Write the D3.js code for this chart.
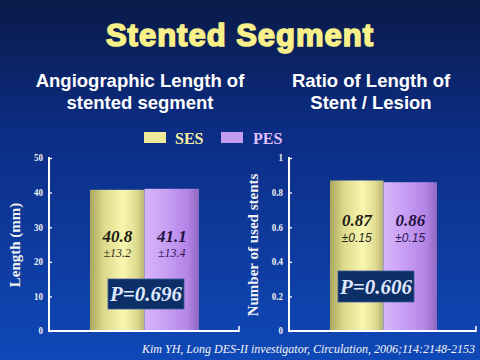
<!DOCTYPE html>
<html><head><meta charset="utf-8">
<script src="https://cdn.jsdelivr.net/npm/d3@7"></script>
<style>html,body{margin:0;padding:0;background:#0d2f8a;}svg{display:block;}</style>
</head><body>
<script>
const series = ["SES", "PES"];
const lengthValues = [40.8, 41.1];
const lengthSD = ["±13.2", "±13.4"];
const ratioValues = [0.87, 0.86];
const ratioSD = ["±0.15", "±0.15"];
const lengthTicks = [0, 10, 20, 30, 40, 50];
const ratioTicks = [0, 0.2, 0.4, 0.6, 0.8, 1];
const pValues = ["P=0.696", "P=0.606"];

const W = 480, H = 360;
const svg = d3.select("body").append("svg").attr("width", W).attr("height", H);
const defs = svg.append("defs");

const bg = defs.append("linearGradient").attr("id", "bg").attr("x1", 0).attr("y1", 0).attr("x2", 0).attr("y2", 1);
bg.append("stop").attr("offset", "0%").attr("stop-color", "#0a1a48");
bg.append("stop").attr("offset", "35%").attr("stop-color", "#0c2c82");
bg.append("stop").attr("offset", "100%").attr("stop-color", "#0f48b8");
svg.append("rect").attr("width", W).attr("height", H).attr("fill", "url(#bg)");

const gradStops = {
  SES: [["0%", "#a9a55e"], ["25%", "#dcd98a"], ["60%", "#f8f6b0"], ["85%", "#e0dc92"], ["100%", "#b8b474"]],
  PES: [["0%", "#d6b6fa"], ["40%", "#c89ef4"], ["80%", "#b384e6"], ["100%", "#8e68c0"]]
};
series.forEach(s => {
  const g = defs.append("linearGradient").attr("id", "g" + s).attr("x1", 0).attr("y1", 0).attr("x2", 1).attr("y2", 0);
  gradStops[s].forEach(([o, c]) => g.append("stop").attr("offset", o).attr("stop-color", c));
});
const swatch = {SES: "#eeea9a", PES: "#c29cf0"};
const legendText = {SES: "#f8f0a0", PES: "#e0c0ff"};

// Title
svg.append("text").attr("x", 240).attr("y", 46).attr("text-anchor", "middle")
  .attr("font-family", "Liberation Sans, Arial, sans-serif").attr("font-weight", "bold").attr("font-size", 31)
  .attr("fill", "#f8f088").attr("stroke", "#f8f088").attr("stroke-width", 1.6).attr("letter-spacing", 1)
  .text("Stented Segment");

const subs = [
  {x: 140, lines: ["Angiographic Length of", "stented segment"]},
  {x: 371, lines: ["Ratio of Length of", "Stent / Lesion"]}
];
subs.forEach(s => {
  s.lines.forEach((l, i) => {
    svg.append("text").attr("x", s.x).attr("y", 87 + i * 22).attr("text-anchor", "middle")
      .attr("font-family", "Liberation Sans, Arial, sans-serif").attr("font-weight", "bold").attr("font-size", 18.5)
      .attr("fill", "#ffffff").text(l);
  });
});

// Legend
const legendX = {SES: [144, 175], PES: [221, 253]};
series.forEach(s => {
  svg.append("rect").attr("x", legendX[s][0]).attr("y", 132).attr("width", 22).attr("height", 11).attr("fill", swatch[s]);
  svg.append("text").attr("x", legendX[s][1]).attr("y", 144)
    .attr("font-family", "Liberation Serif, Times New Roman, serif").attr("font-weight", "bold").attr("font-size", 16)
    .attr("fill", legendText[s]).text(s);
});

const charts = [
  {x0: 49, x1: 239, domain: [0, 50], ticks: lengthTicks, vals: lengthValues, sd: lengthSD, fmt: d3.format(".1f"),
   bars: [90, 199], title: "Length (mm)", titleX: 20, p: pValues[0], box: [108, 279, 76, 30], valY: 242, sdY: 257, sdSerif: true},
  {x0: 289, x1: 476, domain: [0, 1], ticks: ratioTicks, vals: ratioValues, sd: ratioSD, fmt: d3.format(".2f"),
   bars: [330, 437], title: "Number of used stents", titleX: 258, p: pValues[1], box: [338, 271, 76, 31], valY: 226, sdY: 242, sdSerif: false}
];

charts.forEach(c => {
  const y = d3.scaleLinear().domain(c.domain).range([331, 158]);
  const x = d3.scaleBand().domain(series).range(c.bars).padding(0);
  const g = svg.append("g");
  g.selectAll("rect.bar").data(series).enter().append("rect")
    .attr("x", d => x(d)).attr("width", x.bandwidth())
    .attr("y", (d, i) => y(c.vals[i])).attr("height", (d, i) => y(0) - y(c.vals[i]))
    .attr("fill", d => "url(#g" + d + ")");
  // axis
  const ax = g.append("g").attr("transform", `translate(${c.x0},0)`)
    .call(d3.axisRight(y).tickValues(c.ticks).tickSize(3).tickFormat(""));
  ax.select(".domain").remove();
  ax.selectAll("line").attr("stroke", "#fff").attr("stroke-width", 1.3);
  g.append("line").attr("x1", c.x0).attr("x2", c.x0).attr("y1", y(c.domain[1]) - 1).attr("y2", 332)
    .attr("stroke", "#fff").attr("stroke-width", 2);
  g.append("line").attr("x1", c.x0 - 1).attr("x2", c.x1).attr("y1", 331).attr("y2", 331)
    .attr("stroke", "#fff").attr("stroke-width", 2);
  g.append("line").attr("x1", c.x1).attr("x2", c.x1).attr("y1", 326).attr("y2", 332)
    .attr("stroke", "#fff").attr("stroke-width", 1.5);
  g.selectAll("text.tick").data(c.ticks).enter().append("text")
    .attr("x", c.x0 - 6).attr("y", d => y(d) + 3.5).attr("text-anchor", "end")
    .attr("font-family", "Liberation Serif, serif").attr("font-weight", "bold").attr("font-size", 10.5)
    .attr("fill", "#f0f0f0").attr("transform", d => `translate(${(c.x0 - 6) * 0.15},0) scale(0.85,1)`)
    .text(d => d);
  g.append("text").attr("transform", `translate(${c.titleX},245) rotate(-90)`).attr("text-anchor", "middle")
    .attr("font-family", "Liberation Serif, serif").attr("font-weight", "bold").attr("font-size", 15)
    .attr("fill", "#f2f2f2").text(c.title);
  // value labels
  series.forEach((s, i) => {
    const cx = x(s) + x.bandwidth() / 2;
    g.append("text").attr("x", cx).attr("y", c.valY).attr("text-anchor", "middle")
      .attr("font-family", "Liberation Serif, serif").attr("font-weight", "bold").attr("font-style", "italic")
      .attr("font-size", 17).attr("fill", i === 0 ? "#1a1a10" : "#241040").text(c.fmt(c.vals[i]));
    g.append("text").attr("x", cx).attr("y", c.sdY).attr("text-anchor", "middle")
      .attr("font-family", c.sdSerif ? "Liberation Serif, serif" : "Liberation Sans, sans-serif").attr("font-style", "italic")
      .attr("font-size", 12).attr("fill", i === 0 ? "#2a2a18" : "#2e1850").text(c.sd[i]);
  });
  // P box
  g.append("rect").attr("x", c.box[0]).attr("y", c.box[1]).attr("width", c.box[2]).attr("height", c.box[3])
    .attr("fill", "#0b2f66").attr("stroke", "#3a5a9a").attr("stroke-width", 0.8);
  g.append("text").attr("x", c.box[0] + c.box[2] / 2).attr("y", c.box[1] + c.box[3] / 2 + 7).attr("text-anchor", "middle")
    .attr("font-family", "Liberation Serif, serif").attr("font-weight", "bold").attr("font-style", "italic")
    .attr("font-size", 21).attr("fill", "#dfe8ff").text(c.p);
});

svg.append("text").attr("x", 475).attr("y", 353).attr("text-anchor", "end")
  .attr("font-family", "Liberation Serif, serif").attr("font-style", "italic").attr("font-size", 12)
  .attr("fill", "#f4f4f4").text("Kim YH, Long DES-II investigator, Circulation, 2006;114:2148-2153");
</script>
</body></html>
